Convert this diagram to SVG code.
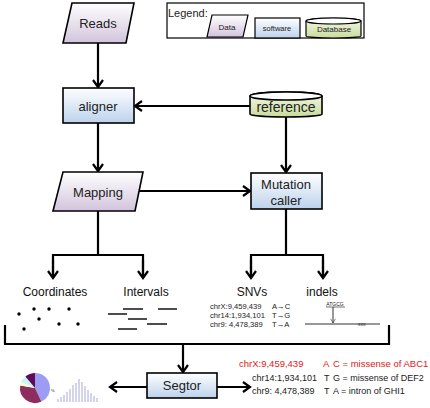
<svg xmlns="http://www.w3.org/2000/svg" width="430" height="408" viewBox="0 0 430 408">
<defs>
<linearGradient id="gData" x1="0" y1="0" x2="0" y2="1"><stop offset="0" stop-color="#ffffff"/><stop offset="1" stop-color="#d2c4dc"/></linearGradient>
<linearGradient id="gSoft" x1="0" y1="0" x2="0" y2="1"><stop offset="0" stop-color="#ffffff"/><stop offset="1" stop-color="#bcd2ec"/></linearGradient>
<linearGradient id="gDb" x1="0" y1="0" x2="0" y2="1"><stop offset="0" stop-color="#f4f8e8"/><stop offset="1" stop-color="#c9dc9c"/></linearGradient>
<marker id="ah" viewBox="0 0 10 12" refX="8" refY="6" markerWidth="10" markerHeight="12" markerUnits="userSpaceOnUse" orient="auto">
<path d="M1,1 L8,6 L1,11" fill="none" stroke="#000" stroke-width="2.2"/>
</marker>
<marker id="ahs" viewBox="0 0 10 10" refX="8" refY="5" markerWidth="6" markerHeight="6" markerUnits="userSpaceOnUse" orient="auto">
<path d="M1,1 L8,5 L1,9" fill="none" stroke="#333" stroke-width="1"/>
</marker>
</defs>
<style>
.ln{fill:none;stroke:#000;stroke-width:2.2}
.box{stroke:#000;stroke-width:1.6}
.t{font-family:"Liberation Sans",Arial,sans-serif;fill:#222;text-anchor:middle}
.s{font-family:"Liberation Sans",Arial,sans-serif;fill:#222}
.lab{font-family:"Liberation Sans",Arial,sans-serif;fill:#111;text-anchor:middle;font-size:12px}
.snv{font-family:"Liberation Sans",Arial,sans-serif;fill:#222;font-size:7.6px}
.ann{font-family:"Liberation Sans",Arial,sans-serif;fill:#222;font-size:9px}
.red{fill:#e02020;font-size:9.5px}
</style>
<rect width="430" height="408" fill="#fff"/>

<g id="legend">
<rect x="167" y="3" width="197" height="35" fill="#fff" stroke="#000" stroke-width="1.2"/>
<text class="s" x="168" y="17" font-size="11">Legend:</text>
<path d="M212,15 L248,15 L243,37 L207,37 Z" fill="url(#gData)" stroke="#000" stroke-width="1.2"/>
<text class="t" x="227" y="30" font-size="8">Data</text>
<rect x="255" y="18" width="45" height="20" fill="url(#gSoft)" stroke="#000" stroke-width="1.2"/>
<text class="t" x="277" y="31" font-size="7.5">software</text>
<path d="M306,21 A27.5,3 0 0 1 361,21 L361,36 A27.5,2 0 0 1 306,36 Z" fill="url(#gDb)" stroke="#000" stroke-width="1.2"/>
<ellipse cx="333.5" cy="21" rx="27.5" ry="3" fill="#fff" stroke="#000" stroke-width="1.2"/>
<text class="t" x="334" y="32" font-size="8">Database</text>
</g>

<g id="connectors">
<line class="ln" x1="98" y1="43" x2="98" y2="87" marker-end="url(#ah)"/>
<line class="ln" x1="250" y1="106" x2="135" y2="106" marker-end="url(#ah)"/>
<line class="ln" x1="98" y1="123" x2="98" y2="171" marker-end="url(#ah)"/>
<line class="ln" x1="286" y1="117" x2="286" y2="172" marker-end="url(#ah)"/>
<line class="ln" x1="139" y1="191" x2="250" y2="191" marker-end="url(#ah)"/>
<polyline class="ln" points="98,211 98,255"/>
<polyline class="ln" points="53,278 53,255 143,255 143,278"/>
<line class="ln" x1="53" y1="260" x2="53" y2="278" marker-end="url(#ah)"/>
<line class="ln" x1="143" y1="260" x2="143" y2="278" marker-end="url(#ah)"/>
<polyline class="ln" points="286,209 286,255"/>
<polyline class="ln" points="251,278 251,255 323,255 323,278"/>
<line class="ln" x1="251" y1="260" x2="251" y2="278" marker-end="url(#ah)"/>
<line class="ln" x1="323" y1="260" x2="323" y2="278" marker-end="url(#ah)"/>
<polyline class="ln" points="5,325 5,344 389,344 389,325"/>
<line class="ln" x1="183" y1="344" x2="183" y2="372" marker-end="url(#ah)"/>
<line class="ln" x1="147" y1="387" x2="110" y2="387" marker-end="url(#ah)"/>
<line class="ln" x1="217" y1="387" x2="250" y2="387" marker-end="url(#ah)"/>
</g>

<g id="reads">
<path class="box" d="M72,3 L134,3 L126,43 L63,43 Z" fill="url(#gData)"/>
<text class="t" x="98" y="28" font-size="13">Reads</text>
</g>

<g id="aligner">
<rect class="box" x="63" y="88" width="71" height="35" fill="url(#gSoft)"/>
<text class="t" x="98" y="111" font-size="13">aligner</text>
</g>

<g id="reference">
<path class="box" d="M250,96 A36,4 0 0 1 322,96 L322,114 A36,3 0 0 1 250,114 Z" fill="url(#gDb)"/>
<ellipse cx="286" cy="96" rx="36" ry="4" fill="#fff" stroke="#000" stroke-width="1.6"/>
<text class="t" x="286" y="112" font-size="14">reference</text>
</g>

<g id="mapping">
<path class="box" d="M63,172 L143,172 L135,211 L53,211 Z" fill="url(#gData)"/>
<text class="t" x="98" y="197" font-size="13">Mapping</text>
</g>

<g id="mutation-caller">
<rect class="box" x="251" y="173" width="71" height="36" fill="url(#gSoft)"/>
<text class="t" x="286" y="189" font-size="13">Mutation</text>
<text class="t" x="286" y="205" font-size="13">caller</text>
</g>

<g id="coordinates">
<text class="lab" x="55" y="296">Coordinates</text>
<g fill="#000">
<circle cx="19" cy="314" r="1.7"/><circle cx="34" cy="309" r="1.7"/><circle cx="49" cy="309" r="1.7"/><circle cx="69" cy="309" r="1.7"/>
<circle cx="39" cy="319" r="1.7"/><circle cx="59" cy="324" r="1.7"/><circle cx="78" cy="324" r="1.7"/><circle cx="24" cy="329" r="1.7"/>
</g>
</g>

<g id="intervals">
<text class="lab" x="146" y="296">Intervals</text>
<g stroke="#000" stroke-width="1.4">
<line x1="108" y1="314" x2="127" y2="314"/><line x1="123" y1="309" x2="143" y2="309"/><line x1="158" y1="309" x2="177" y2="309"/>
<line x1="128" y1="319" x2="147" y2="319"/><line x1="147" y1="324" x2="167" y2="324"/><line x1="118" y1="329" x2="137" y2="329"/>
</g>
</g>

<g id="snvs">
<text class="lab" x="252" y="296">SNVs</text>
<text class="snv" x="210" y="309">chrX:9,459,439</text>
<text class="snv" x="210" y="318">chr14:1,934,101</text>
<text class="snv" x="210" y="327">chr9: 4,478,389</text>
<text class="snv" x="272" y="309">A→C</text>
<text class="snv" x="272" y="318">T→G</text>
<text class="snv" x="272" y="327">T→A</text>
</g>

<g id="indels">
<text class="lab" x="322" y="296">indels</text>
<text class="t" x="335" y="306" font-size="5">ATGCG</text>
<line x1="326" y1="307" x2="345" y2="307" stroke="#333" stroke-width="0.7"/>
<line x1="333" y1="307" x2="333" y2="323" stroke="#333" stroke-width="1" marker-end="url(#ahs)"/>
<line x1="305" y1="324" x2="380" y2="324" stroke="#333" stroke-width="1"/>
<text class="s" x="358" y="325.5" font-size="5">xxx</text>
</g>

<g id="segtor">
<rect class="box" x="147" y="373" width="70" height="25" fill="url(#gSoft)"/>
<text class="t" x="182" y="390" font-size="13">Segtor</text>
</g>

<g id="charts">
<path d="M35,388 L35,373 A15,15 0 0 1 41.4,401.6 Z" fill="#9c9cf4"/>
<path d="M35,388 L41.4,401.6 A15,15 0 0 1 20.2,385.6 Z" fill="#8e2d60"/>
<path d="M35,388 L20.2,385.6 A15,15 0 0 1 20.9,382.1 Z" fill="#fdfccc"/>
<path d="M35,388 L20.9,382.1 A15,15 0 0 1 25.4,376.5 Z" fill="#c8f4f4"/>
<path d="M35,388 L25.4,376.5 A15,15 0 0 1 35,373 Z" fill="#5e0a5e"/>
<text class="s" x="51" y="392" font-size="4" fill="#777">%</text>
<g stroke="#a8a8dc" stroke-width="1">
<line x1="58" y1="402" x2="58" y2="399"/><line x1="61" y1="402" x2="61" y2="397"/><line x1="64" y1="402" x2="64" y2="395"/>
<line x1="67" y1="402" x2="67" y2="392"/><line x1="70" y1="402" x2="70" y2="389"/><line x1="73" y1="402" x2="73" y2="385"/>
<line x1="76" y1="402" x2="76" y2="383"/><line x1="79" y1="402" x2="79" y2="379"/><line x1="82" y1="402" x2="82" y2="382"/>
<line x1="85" y1="402" x2="85" y2="386"/><line x1="88" y1="402" x2="88" y2="390"/><line x1="91" y1="402" x2="91" y2="393"/>
<line x1="94" y1="402" x2="94" y2="396"/><line x1="97" y1="402" x2="97" y2="398"/>
</g>
</g>

<g id="annotations">
<text class="ann red" x="239" y="367">chrX:9,459,439</text>
<text class="ann red" x="323" y="367">A</text>
<text class="ann red" x="333" y="367">C = missense of ABC1</text>
<text class="ann" x="252" y="381">chr14:1,934,101</text>
<text class="ann" x="324" y="381">T</text>
<text class="ann" x="333" y="381">G = missense of DEF2</text>
<text class="ann" x="252" y="394">chr9: 4,478,389</text>
<text class="ann" x="324" y="394">T</text>
<text class="ann" x="333" y="394">A = intron of  GHI1</text>
</g>
</svg>
